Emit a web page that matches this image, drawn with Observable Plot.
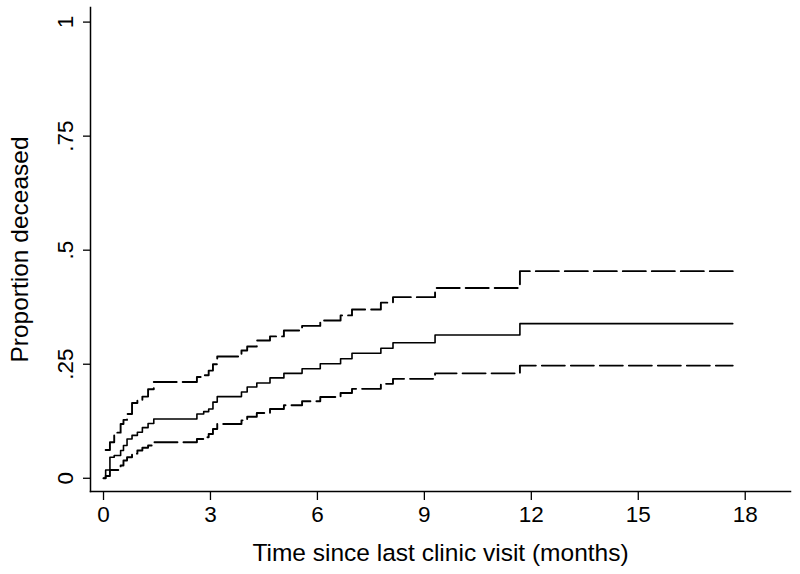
<!DOCTYPE html>
<html>
<head>
<meta charset="utf-8">
<script src="https://cdn.jsdelivr.net/npm/d3@7"></script>
<script src="https://cdn.jsdelivr.net/npm/@observablehq/plot@0.6"></script>
<style>
  html, body { margin: 0; padding: 0; background: #fff; }
</style>
</head>
<body>
<div id="chart"></div>
<script>
// Event times (months since last clinic visit)
const times = [0, 0.06, 0.18, 0.30, 0.48, 0.56, 0.66, 0.80, 0.95, 1.09, 1.25, 1.41,
  2.62, 2.81, 2.95, 3.07, 3.19, 3.87, 4.03, 4.30, 4.67, 5.06, 5.57, 6.08, 6.65,
  6.97, 7.78, 8.12, 9.30, 11.68, 17.65];
// Kaplan-Meier cumulative proportion deceased
const estimate = [0, 0.018, 0.046, 0.050, 0.061, 0.072, 0.086, 0.094, 0.101, 0.111, 0.120, 0.130,
  0.141, 0.146, 0.152, 0.167, 0.179, 0.189, 0.200, 0.209, 0.220, 0.230, 0.240, 0.251, 0.262,
  0.274, 0.285, 0.297, 0.314, 0.339, 0.339];
// Upper 95% confidence bound
const upper = [null, 0.062, 0.079, 0.100, 0.119, 0.128, 0.141, 0.165, 0.170, 0.179, 0.195, 0.211,
  0.222, 0.226, 0.236, 0.250, 0.267, 0.280, 0.289, 0.302, 0.311, 0.324, 0.334, 0.346, 0.357,
  0.370, 0.385, 0.397, 0.417, 0.454, 0.454];
// Lower 95% confidence bound
const lower = [0, 0.005, 0.018, 0.018, 0.028, 0.039, 0.046, 0.054, 0.061, 0.067, 0.072, 0.079,
  0.086, 0.090, 0.097, 0.108, 0.119, 0.127, 0.135, 0.143, 0.152, 0.160, 0.169, 0.178, 0.187,
  0.196, 0.207, 0.218, 0.230, 0.247, 0.247];

const xTicks = [0, 3, 6, 9, 12, 15, 18];
const yTicks = [0, 0.25, 0.5, 0.75, 1];
const yTickLabels = ["0", ".25", ".5", ".75", "1"];
const xTitle = "Time since last clinic visit (months)";
const yTitle = "Proportion deceased";

const rows = (vals) => times.map((t, i) => ({t, v: vals[i]}));
const estRows = rows(estimate);
const upRows = rows(upper);
const loRows = rows(lower);

const font = "'Liberation Sans', Arial, Helvetica, sans-serif";

const chart = Plot.plot({
  width: 800,
  height: 574,
  marginTop: 7,
  marginRight: 10,
  marginBottom: 83,
  marginLeft: 90,
  style: {fontFamily: font, color: "#000", background: "#fff"},
  x: {domain: [-0.365, 19.27]},
  y: {domain: [-0.029, 1.032]},
  marks: [
    Plot.frame({anchor: "left", stroke: "#000", strokeWidth: 1.5}),
    Plot.frame({anchor: "bottom", stroke: "#000", strokeWidth: 1.5}),
    Plot.axisX({ticks: xTicks, tickSize: 9, tickPadding: 6, fontSize: 22.5, label: null, stroke: "#000", strokeWidth: 1.3}),
    Plot.axisY({ticks: yTicks, tickFormat: (d) => yTickLabels[yTicks.indexOf(d)], tickSize: 7, tickPadding: 11,
      tickRotate: -90, fontSize: 22.5, label: null, stroke: "#000", strokeWidth: 1.3}),
    Plot.text([xTitle], {frameAnchor: "bottom", dy: 69, lineAnchor: "bottom", textAnchor: "middle", fontSize: 24.5, fill: "#000"}),
    Plot.text([yTitle], {frameAnchor: "left", dx: -80, rotate: -90, lineAnchor: "top", textAnchor: "middle", fontSize: 24.5, fill: "#000"}),
    Plot.line(upRows, {x: "t", y: "v", curve: "step-after", stroke: "#000", strokeWidth: 1.9, strokeDasharray: "23,6"}),
    Plot.line(loRows, {x: "t", y: "v", curve: "step-after", stroke: "#000", strokeWidth: 1.9, strokeDasharray: "23,6"}),
    Plot.line(estRows, {x: "t", y: "v", curve: "step-after", stroke: "#000", strokeWidth: 1.6})
  ]
});
document.getElementById("chart").appendChild(chart);
</script>
</body>
</html>
